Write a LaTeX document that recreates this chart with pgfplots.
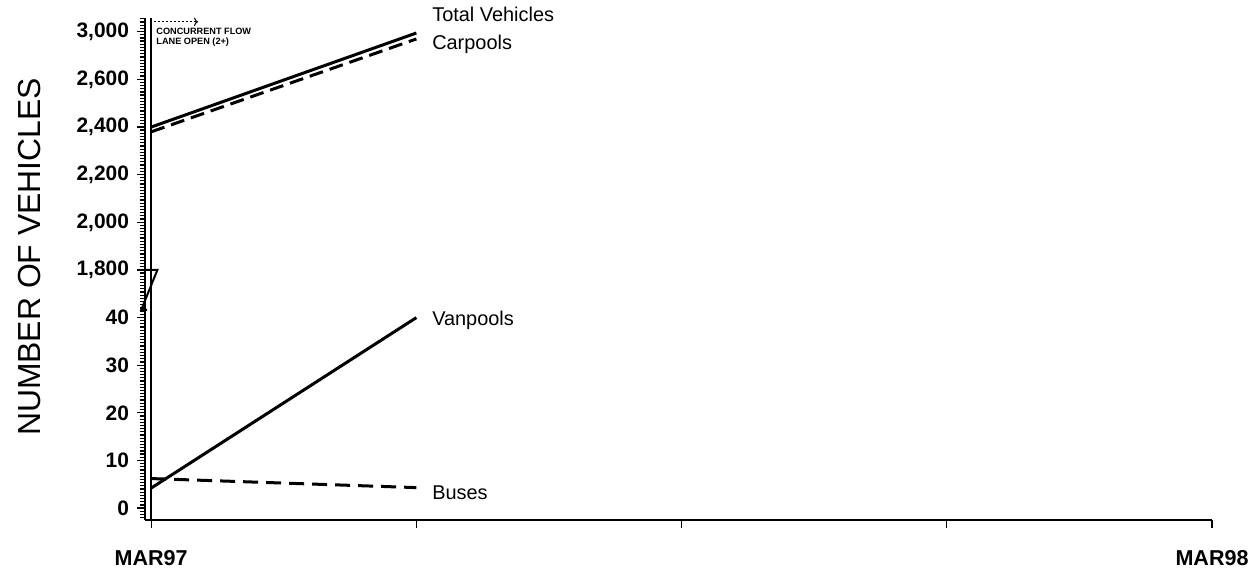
\documentclass[border=0pt]{standalone}
\usepackage{pgfplots}
\pgfplotsset{compat=1.18}
\usetikzlibrary{arrows.meta}
\usepackage{fontspec}
\setmainfont{Liberation Sans}

\begin{document}
\begin{tikzpicture}
	\begin{axis}[
		scale only axis,
		width=533.5bp, height=251bp,
		xmin=-0.07, xmax=12,
		ymin=-0.25, ymax=10.29,
		axis x line*=bottom,
		axis y line*=left,
		axis line style={line width=1bp, -},
		xtick={0,3,6,9,12},
		xticklabels={MAR97,,,,MAR98},
		ytick={0,1,...,10},
		yticklabels={0,10,20,30,40,{1,800},{2,000},{2,200},{2,400},{2,600},{3,000}},
		minor ytick={-0.2,-0.1333,...,10.27},
		tick align=outside,
		major tick length=4bp,
		minor tick length=2.5bp,
		tick style={black, line width=0.6bp},
		xticklabel style={font=\bfseries\fontsize{10.8}{13}\selectfont, yshift=-7.5bp},
		yticklabel style={font=\bfseries\fontsize{10.5}{13}\selectfont, xshift=-0.5bp},
		y filter/.expression={y<=40 ? y/10 : (y<=2600 ? 5+(y-1800)/200 : 9+(y-2600)/400)},
		clip=false
		]
		% series (real values, mapped onto the broken axis by the y filter)
		\addplot[black, line width=1.5bp] coordinates {(0,2400) (3,2990)};           % total vehicles
		\addplot[black, line width=1.5bp, dash pattern=on 7bp off 3.5bp] coordinates {(0,2380) (3,2940)}; % carpools
		\addplot[black, line width=1.5bp] coordinates {(0,4.2) (3,40)};              % vanpools
		\addplot[black, line width=1.5bp, dash pattern=on 7.5bp off 4bp] coordinates {(0,6.2) (3,4.3)}; % buses

		% concurrent flow lane marker
		\draw[black, line width=0.9bp] (axis cs:0,-0.25) -- (axis cs:0,10.29);
		\draw[black, line width=0.5bp, dash pattern=on 1.2bp off 0.8bp, -{To[length=2bp]}] (axis cs:0.03,10.21) -- (axis cs:0.53,10.21);
		\node[anchor=west, inner sep=0pt, align=left, font=\bfseries\fontsize{4.6}{5.2}\selectfont] at (axis cs:0.055,9.89) {CONCURRENT FLOW\\LANE OPEN (2+)};

		% axis break
		\draw[black, line width=1bp] (axis cs:-0.07,5) -- (axis cs:0.07,5) -- (axis cs:-0.113,4.16) -- (axis cs:-0.045,4.16);

		% series labels
		\node[anchor=west, font=\fontsize{10}{12}\selectfont] at (axis cs:3.1,10.36) {Total Vehicles};
		\node[anchor=west, font=\fontsize{10}{12}\selectfont] at (axis cs:3.1,9.73) {Carpools};
		\node[anchor=west, font=\fontsize{10}{12}\selectfont] at (axis cs:3.1,3.95) {Vanpools};
		\node[anchor=west, font=\fontsize{10}{12}\selectfont] at (axis cs:3.1,0.32) {Buses};

		% y axis title
		\node[xshift=-57.5bp, rotate=90, font=\fontsize{16}{19}\selectfont] at (rel axis cs:0,0.524) {NUMBER OF VEHICLES};
	\end{axis}
	\pgfresetboundingbox
	\path[use as bounding box] ([shift={(-72.5bp,-27.5bp)}]current axis.south west) rectangle ++(630bp,287.5bp);
\end{tikzpicture}
\end{document}
